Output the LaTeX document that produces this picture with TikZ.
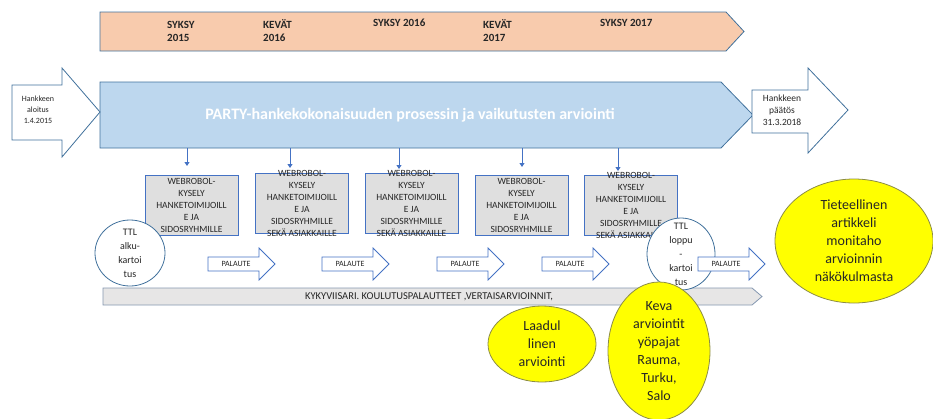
\documentclass[tikz,border=0pt]{standalone}
\usepackage{fontspec}
\setmainfont{Carlito}
\usetikzlibrary{shapes.geometric,arrows.meta}

\definecolor{timeorange}{HTML}{F8CBAD}
\definecolor{planblue}{HTML}{BDD7EE}
\definecolor{edgeblue}{HTML}{41719C}
\definecolor{boxedge}{HTML}{4472C4}
\definecolor{boxgray}{HTML}{DFDFDF}
\definecolor{bargray}{HTML}{E7E6E6}
\definecolor{baredge}{HTML}{8497B0}
\definecolor{markyellow}{HTML}{FFFF00}
\definecolor{yellowedge}{HTML}{8C8C46}
\definecolor{inkgray}{HTML}{262626}

\begin{document}
\begin{tikzpicture}[x=1pt,y=-1pt,
  timebar/.style={draw=edgeblue,fill=timeorange,line width=0.8pt},
  planbar/.style={draw=edgeblue,fill=planblue,line width=0.8pt},
  endarrow/.style={draw=edgeblue,fill=white,line width=0.8pt},
  greybar/.style={draw=baredge,fill=bargray,line width=0.8pt},
  season/.style={anchor=west,align=left,inner sep=0pt,text=inkgray,font=\bfseries\fontsize{11}{13}\selectfont},
  edgetext/.style={align=center,inner sep=0pt,text=inkgray},
  webbox/.style={draw=boxedge,fill=boxgray,line width=0.8pt,minimum width=93pt,minimum height=60pt,inner sep=0pt},
  webtext/.style={align=center,inner sep=0pt,text=inkgray,font=\fontsize{9.5}{12}\selectfont},
  ttl/.style={ellipse,draw=edgeblue,fill=white,line width=0.8pt,inner sep=0pt},
  ttltext/.style={align=center,inner sep=0pt,text=inkgray,font=\fontsize{10}{14}\selectfont},
  palaute/.style={draw=boxedge,fill=white,line width=0.8pt},
  palautetext/.style={inner sep=0pt,text=inkgray,font=\fontsize{8}{10}\selectfont},
  result/.style={ellipse,draw=yellowedge,fill=markyellow,line width=0.8pt,inner sep=0pt},
  resulttext/.style={align=center,inner sep=0pt,text=inkgray,font=\fontsize{14}{18}\selectfont},
  feed/.style={-{Triangle[width=5pt,length=4pt]},draw=boxedge,line width=0.8pt}
]
  \useasboundingbox (0,0) rectangle (933,418);

  \draw[timebar] (100,12) -- (726,12) -- (744,31.5) -- (726,51) -- (100,51) -- cycle;
  \node[season] (s15) at (167,31) {SYKSY\\2015};
  \node[season] (k16) at (263,31) {KEVÄT\\2016};
  \node[season] (s16) at (373,22.5) {SYKSY 2016};
  \node[season] (k17) at (483,31) {KEVÄT\\2017};
  \node[season] (s17) at (600,22.5) {SYKSY 2017};

  \draw[planbar] (100,82) -- (721,82) -- (753,115) -- (721,148) -- (100,148) -- cycle;
  \node[font=\bfseries\fontsize{16}{19}\selectfont,text=white,inner sep=0pt] (plan) at (410,115) {PARTY-hankekokonaisuuden prosessin ja vaikutusten arviointi};

  \draw[endarrow] (12,85) -- (62,85) -- (62,68) -- (100,112) -- (62,157) -- (62,140) -- (12,140) -- cycle;
  \node[edgetext,font=\fontsize{8}{11}\selectfont] (alku) at (38,110) {Hankkeen\\aloitus\\1.4.2015};
  \draw[endarrow] (752,90) -- (808,90) -- (808,68) -- (848,110) -- (808,153) -- (808,133) -- (752,133) -- cycle;
  \node[edgetext,font=\fontsize{9.5}{12}\selectfont] (loppu) at (782,110) {Hankkeen\\päätös\\31.3.2018};

  \foreach \x/\y [count=\i] in {187/166,290/168,399/169,522/167,618/171}{
    \coordinate (from\i) at (\x,148);
    \coordinate (to\i) at (\x,\y);
    \draw[feed] (from\i) -- (to\i);
  }

  \node[webbox,label={[webtext]center:{WEBROBOL-\\KYSELY\\HANKETOIMIJOILL\\E JA\\SIDOSRYHMILLE}}] (web1) at (191.5,205) {};
  \node[webbox,label={[webtext]center:{WEBROBOL-\\KYSELY\\HANKETOIMIJOILL\\E JA\\SIDOSRYHMILLE\\SEKÄ ASIAKKAILLE}}] (web2) at (302,203) {};
  \node[webbox,label={[webtext]center:{WEBROBOL-\\KYSELY\\HANKETOIMIJOILL\\E JA\\SIDOSRYHMILLE\\SEKÄ ASIAKKAILLE}}] (web3) at (411.5,203.5) {};
  \node[webbox,label={[webtext]center:{WEBROBOL-\\KYSELY\\HANKETOIMIJOILL\\E JA\\SIDOSRYHMILLE}}] (web4) at (521.5,205) {};
  \node[webbox,label={[webtext]center:{WEBROBOL-\\KYSELY\\HANKETOIMIJOILL\\E JA\\SIDOSRYHMILLE\\SEKÄ ASIAKKAILLE}}] (web5) at (631,205) {};

  \draw[greybar] (103,288) -- (752,288) -- (762,296.5) -- (752,305) -- (103,305) -- cycle;
  \node[font=\fontsize{10.5}{12}\selectfont,text=inkgray,inner sep=0pt] (muut) at (429,297) {KYKYVIISARI. KOULUTUSPALAUTTEET ,VERTAISARVIOINNIT,};

  \node[ttl,minimum width=70pt,minimum height=66pt,label={[ttltext]center:{TTL\\alku-\\kartoi\\tus}}] (ttl1) at (130,253) {};
  \node[ttl,minimum width=68pt,minimum height=72pt,label={[ttltext]center:{TTL\\loppu\\-\\kartoi\\tus}}] (ttl2) at (681,254) {};

  \foreach \x [count=\i] in {208,322,437,542,698}{
    \draw[palaute] (\x,257) -- ++(51,0) -- ++(0,-9) -- ++(16,16) -- ++(-16,16) -- ++(0,-9) -- ++(-51,0) -- cycle;
    \node[palautetext] (pal\i) at (\x+28,264) {PALAUTE};
  }

  \node[result,minimum width=108pt,minimum height=76pt,label={[resulttext]center:{Laadul\\linen\\arviointi}}] (laatu) at (542,344) {};
  \node[result,minimum width=102pt,minimum height=138pt,label={[resulttext]center:{Keva\\arviointit\\yöpajat\\Rauma,\\Turku,\\Salo}}] (keva) at (659,351) {};
  \node[result,minimum width=158pt,minimum height=124pt,label={[resulttext]center:{Tieteellinen\\artikkeli\\monitaho\\arvioinnin\\näkökulmasta}}] (artikkeli) at (854,241) {};
\end{tikzpicture}
\end{document}
